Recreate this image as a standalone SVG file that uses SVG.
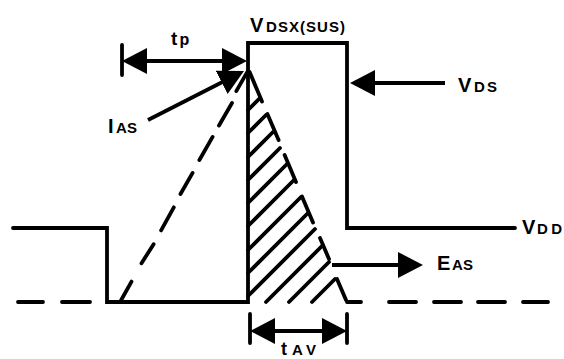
<svg xmlns="http://www.w3.org/2000/svg" width="564" height="359" viewBox="0 0 564 359">
<style>
.ln{fill:none;stroke:#000;stroke-width:3.8;stroke-linecap:round;stroke-linejoin:miter}
.ar{fill:none;stroke:#000;stroke-width:3.8;stroke-linecap:butt}
.bar{fill:none;stroke:#000;stroke-width:3.8;stroke-linecap:round}
.big{font-family:"Liberation Sans",Arial,Helvetica,sans-serif;font-weight:bold;font-size:20px;fill:#000}
.sub{font-family:"Liberation Sans",Arial,Helvetica,sans-serif;font-weight:bold;font-size:15px;fill:#000}
</style>
<defs>
<marker id="ah" viewBox="0 0 25 26" refX="13" refY="13" markerWidth="25" markerHeight="26" markerUnits="userSpaceOnUse" orient="auto-start-reverse">
<path d="M0,0 L25,13 L0,26 Z" fill="#000"/>
</marker>
</defs>
<rect width="564" height="359" fill="#fff"/>

<g id="waveform">
<path class="ln" d="M13,228 H107 V302 H248 V43 H347 V228 H515"/>
</g>

<g id="baseline-dashes">
<path class="ln" d="M18,302 H43 M62,302 H90 M347,302 H361 M389,302 H416 M434,302 H461 M478,302 H505 M523,302 H548"/>
</g>

<g id="current-ramp">
<path class="ln" d="M121.2,300 L131.5,281.6 M141.5,263.3 L153.6,244.2 M161.1,230.4 L173.8,207.3 M180.5,194 L192.6,172.9 M199.4,160 L212.6,136.9 M219,125.5 L232,103 M236.3,91.1 L246.9,72.6"/>
<path class="ln" d="M249.6,72 L262,101.5 M267.4,114 L278.6,140 M284.6,155 L296,182 M302,196.5 L313,222.5 M320,238 L329,259 M337,279 L346,300"/>
</g>

<g id="hatch">
<path class="ln" d="M248,110 L259,99 M248,133 L266,115 M248,157 L273,132 M248,180 L280,148 M248,203 L287,164 M248,226 L294,180 M248,250 L301,197 M248,273 L308,213 M248,296 L315,229 M266,302 L322,246 M289,302 L329,262 M312,302 L335,279"/>
</g>

<g id="connectors">
<path class="bar" d="M122,45 V75"/>
<path class="ar" d="M134,61 H235" marker-start="url(#ah)" marker-end="url(#ah)"/>
<path class="ar" d="M148,120 L233.3,76.5" marker-end="url(#ah)"/>
<path class="ar" d="M445,83 H362" marker-end="url(#ah)"/>
<path class="ar" d="M332,265 H411" marker-end="url(#ah)"/>
<path class="bar" d="M250,314 V343 M347,314 V343"/>
<path class="ar" d="M262,331 H335" marker-start="url(#ah)" marker-end="url(#ah)"/>
</g>

<g id="label-vdsx">
<text class="big" x="250" y="32">V</text>
<text class="sub" x="266" y="32" textLength="79" lengthAdjust="spacing">DSX(SUS)</text>
</g>
<g id="label-tp">
<text class="big" x="171" y="45" style="font-size:19px">t</text>
<text class="big" x="179.5" y="45" style="font-size:16px">p</text>
</g>
<g id="label-ias">
<text class="big" x="108" y="133">I</text>
<text class="sub" x="116" y="133" textLength="21" lengthAdjust="spacing">AS</text>
</g>
<g id="label-vds">
<text class="big" x="458" y="92">V</text>
<text class="sub" x="474" y="92" textLength="23" lengthAdjust="spacing">DS</text>
</g>
<g id="label-vdd">
<text class="big" x="522" y="234">V</text>
<text class="sub" x="537" y="234" textLength="25" lengthAdjust="spacing">DD</text>
</g>
<g id="label-eas">
<text class="big" x="437" y="270">E</text>
<text class="sub" x="452" y="270" textLength="21" lengthAdjust="spacing">AS</text>
</g>
<g id="label-tav">
<text class="big" x="281" y="355" style="font-size:18px">t</text>
<text class="sub" x="292" y="355" textLength="24" lengthAdjust="spacing">AV</text>
</g>
</svg>
